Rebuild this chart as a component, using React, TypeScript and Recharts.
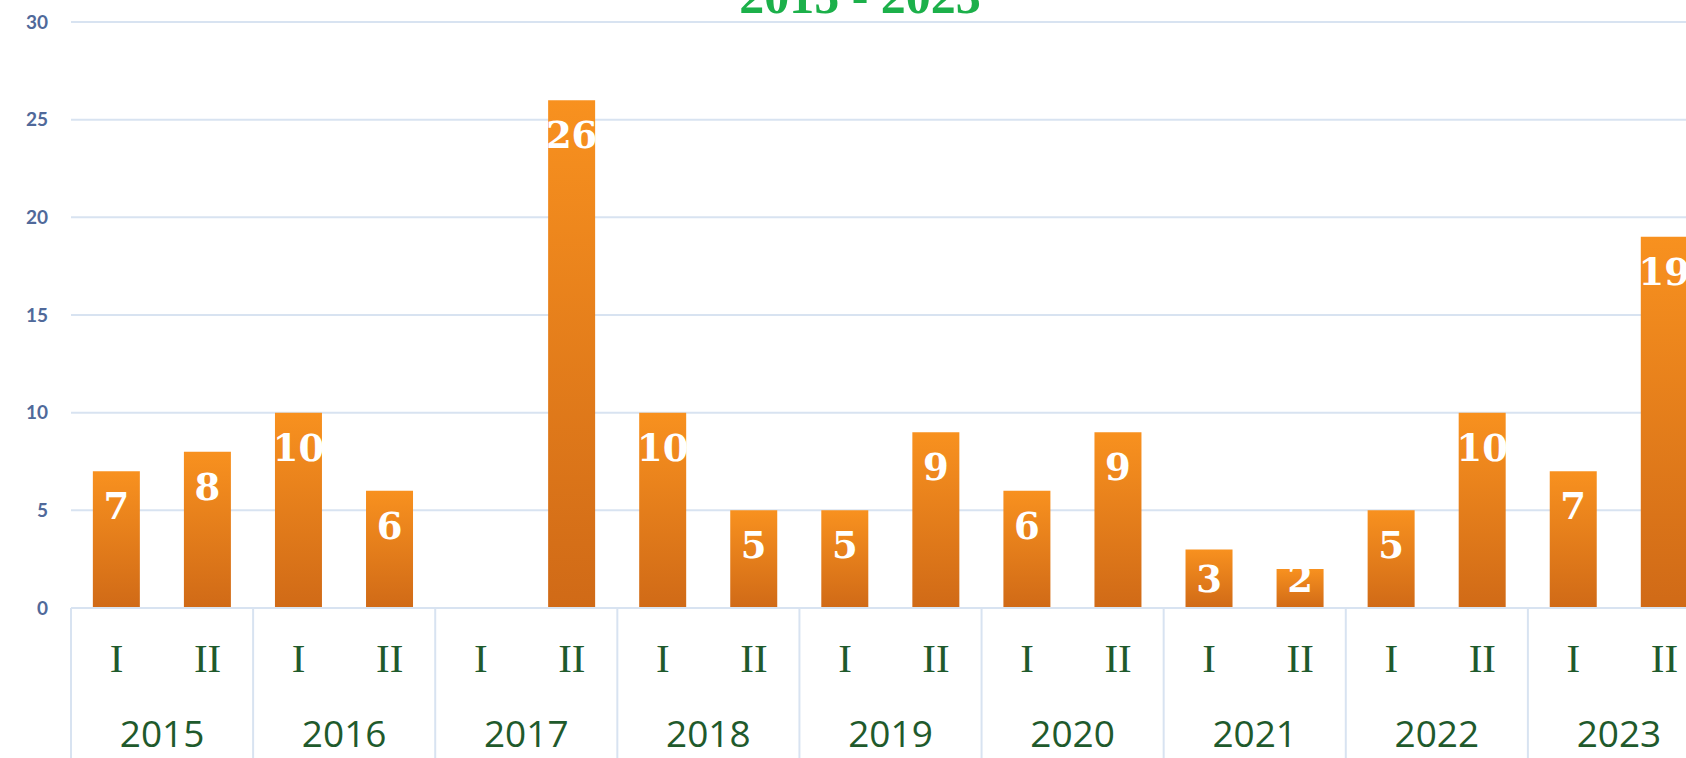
import React from "react";
import { BarChart, Bar, XAxis, YAxis, CartesianGrid, LabelList } from "recharts";

const years = ["2015", "2016", "2017", "2018", "2019", "2020", "2021", "2022", "2023"];
const halves = ["I", "II"];
const counts = [7, 8, 10, 6, 0, 26, 10, 5, 5, 9, 6, 9, 3, 2, 5, 10, 7, 19];
const yTicks = [0, 5, 10, 15, 20, 25, 30];
const title = "2015 - 2023";

const data = counts.map((value, i) => ({
  key: `${years[Math.floor(i / 2)]}-${halves[i % 2]}`,
  half: halves[i % 2],
  year: years[Math.floor(i / 2)],
  value,
}));

const CHART_W = 1720;
const CHART_H = 758;
const MARGIN = { top: 22, right: 10, left: 0, bottom: 0 };
const Y_W = 71;
const X_H = 150;
const STEP = (CHART_W - MARGIN.left - MARGIN.right - Y_W) / data.length;
const AXIS_Y = CHART_H - MARGIN.bottom - X_H;
const GREEN = "#1f5a2c";
const GRID = "#d8e3f1";

function TwoLevelTick(props: any) {
  const { x, index, payload } = props;
  const row = data[index] ?? data.find((d) => d.key === payload.value);
  return (
    <g>
      <text
        x={x}
        y={AXIS_Y + 50}
        textAnchor="middle"
        dominantBaseline="central"
        fill={GREEN}
        fontFamily="'Liberation Serif', serif"
        fontSize={41}
      >
        {row.half}
      </text>
      {index % 2 === 0 && (
        <>
          <line x1={x - STEP / 2} x2={x - STEP / 2} y1={AXIS_Y} y2={CHART_H} stroke={GRID} strokeWidth={2} />
          <text
            x={x + STEP / 2}
            y={AXIS_Y + 124}
            textAnchor="middle"
            dominantBaseline="central"
            fill={GREEN}
            fontFamily="'Open Sans', sans-serif"
            fontSize={37}
          >
            {row.year}
          </text>
        </>
      )}
    </g>
  );
}

// value label near the top of each bar, pulled up a bit on short bars
function BarValue(props: any) {
  const { x, y, width, height, value } = props;
  if (!value) return null;
  const dy = Math.min(35, height - 29);
  return (
    <text
      x={x + width / 2}
      y={y + dy}
      textAnchor="middle"
      dominantBaseline="central"
      fill="#fff"
      fontSize={37}
      fontWeight={700}
      fontFamily="'DejaVu Serif', serif"
    >
      {value}
    </text>
  );
}

export default function App() {
  return (
    <div style={{ position: "fixed", left: 0, top: 0, width: 1686, height: 758, overflow: "hidden", background: "#fff" }}>
      <BarChart width={CHART_W} height={CHART_H} data={data} margin={MARGIN} barCategoryGap="24%">
        <defs>
          <linearGradient id="barFill" x1="0" y1="0" x2="0" y2="1">
            <stop offset="0%" stopColor="#f8911f" />
            <stop offset="100%" stopColor="#d06a17" />
          </linearGradient>
        </defs>
        <CartesianGrid vertical={false} stroke={GRID} strokeWidth={2} />
        <XAxis
          dataKey="key"
          height={X_H}
          interval={0}
          axisLine={{ stroke: GRID, strokeWidth: 2 }}
          tickLine={false}
          tick={<TwoLevelTick />}
        />
        <YAxis
          width={Y_W}
          domain={[0, 30]}
          ticks={yTicks}
          axisLine={false}
          tickLine={false}
          tickMargin={17}
          tick={{ fill: "#50699a", fontSize: 19, fontWeight: 700, fontFamily: "Lato, sans-serif" }}
        />
        <Bar dataKey="value" fill="url(#barFill)" isAnimationActive={false}>
          <LabelList dataKey="value" content={<BarValue />} />
        </Bar>
      </BarChart>
      <svg width={1686} height={40} style={{ position: "absolute", left: 0, top: 0 }}>
        <text
          x={860}
          y={13}
          textAnchor="middle"
          fill="#1cb04a"
          fontFamily="'Liberation Serif', serif"
          fontWeight={700}
          fontSize={50}
        >
          {title}
        </text>
      </svg>
    </div>
  );
}
